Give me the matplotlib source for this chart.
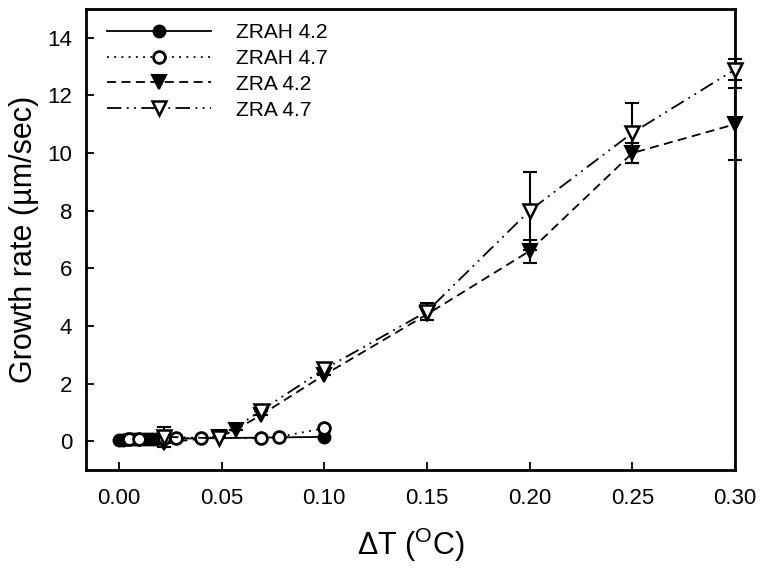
import matplotlib
matplotlib.use("Agg")
import matplotlib.pyplot as plt

plt.rcParams['font.family'] = ['Liberation Sans', 'DejaVu Sans']
plt.rcParams['mathtext.fontset'] = 'custom'
plt.rcParams['mathtext.rm'] = 'Liberation Sans'

# ZRAH 4.2 (filled circles, solid)
zrah42_x = [0.0, 0.002, 0.004, 0.006, 0.008, 0.010, 0.012, 0.014, 0.016, 0.018, 0.10]
zrah42_y = [0.05, 0.05, 0.06, 0.06, 0.06, 0.07, 0.07, 0.07, 0.08, 0.08, 0.15]

# ZRAH 4.7 (open circles, dotted)
zrah47_x = [0.005, 0.010, 0.022, 0.028, 0.040, 0.069, 0.078, 0.10]
zrah47_y = [0.07, 0.08, 0.12, 0.10, 0.12, 0.10, 0.15, 0.45]

# ZRA 4.2 (filled down triangles, dashed)
zra42_x = [0.022, 0.049, 0.057, 0.069, 0.10, 0.15, 0.20, 0.25, 0.30]
zra42_y = [-0.05, 0.15, 0.40, 0.90, 2.30, 4.40, 6.60, 10.00, 11.00]
zra42_err = [0, 0, 0, 0, 0, 0.2, 0.4, 0.35, 1.25]

# ZRA 4.7 (open down triangles, dash-dot-dot)
zra47_x = [0.022, 0.049, 0.069, 0.10, 0.15, 0.20, 0.25, 0.30]
zra47_y = [0.15, 0.10, 1.05, 2.50, 4.50, 8.00, 10.70, 12.90]
zra47_err = [0.35, 0, 0, 0, 0.3, 1.35, 1.05, 0.35]

x_ticks = [0.00, 0.05, 0.10, 0.15, 0.20, 0.25, 0.30]
x_ticklabels = ['0.00', '0.05', '0.10', '0.15', '0.20', '0.25', '0.30']
y_ticks = [0, 2, 4, 6, 8, 10, 12, 14]

fig = plt.figure(figsize=(7.66, 5.68), dpi=100)
ax = fig.add_axes([86/766, 1-470/568, (735-86)/766, (470-9)/568])

lw = 1.3
cms = 8.5
tms = 9.5
ebkw = dict(fmt='none', ecolor='black', elinewidth=1.5, capsize=5, capthick=1.5, clip_on=False)
ax.errorbar(zra42_x, zra42_y, yerr=zra42_err, zorder=2, **ebkw)
ax.errorbar(zra47_x, zra47_y, yerr=zra47_err, zorder=2, **ebkw)

ax.plot(zrah42_x, zrah42_y, '-', color='black', lw=lw, marker='o', ms=cms,
        mfc='black', mec='black', mew=1.5, label='ZRAH 4.2', zorder=3, clip_on=False)
ax.plot(zrah47_x, zrah47_y, linestyle=(0, (1, 3)), color='black', lw=lw, marker='o', ms=cms,
        mfc='white', mec='black', mew=2, label='ZRAH 4.7', zorder=4, clip_on=False)
ax.plot(zra42_x, zra42_y, linestyle=(0, (5, 3)), color='black', lw=lw,
        marker='v', ms=tms, mfc='black', mec='black', mew=1.5, label='ZRA 4.2', zorder=3, clip_on=False)
ax.plot(zra47_x, zra47_y, linestyle=(0, (8, 3, 1, 3, 1, 3)), color='black', lw=lw,
        marker='v', ms=tms, mfc='white', mec='black', mew=1.8, label='ZRA 4.7', zorder=4, clip_on=False)

ax.set_xlim(-0.016, 0.30)
ax.set_ylim(-1, 15)
ax.set_xticks(x_ticks)
ax.set_xticklabels(x_ticklabels)
ax.set_yticks(y_ticks)
ax.tick_params(direction='in', length=6, width=1.3, labelsize=16, top=False, right=False)
ax.tick_params(axis='x', pad=13)
ax.tick_params(axis='y', pad=10)
for s in ax.spines.values():
    s.set_linewidth(2)

ax.set_xlabel(r'ΔT ($^{\mathrm{O}}$C)', fontsize=22, labelpad=12)
ax.set_ylabel('Growth rate (µm/sec)', fontsize=22, labelpad=6)

leg = ax.legend(loc='upper left', frameon=False, fontsize=15, handlelength=5,
                handletextpad=1.2, labelspacing=0.33, borderaxespad=0.0, borderpad=0.0,
                bbox_to_anchor=(21/649, 1 - 14/461))

fig.savefig('out.png', dpi=100)
